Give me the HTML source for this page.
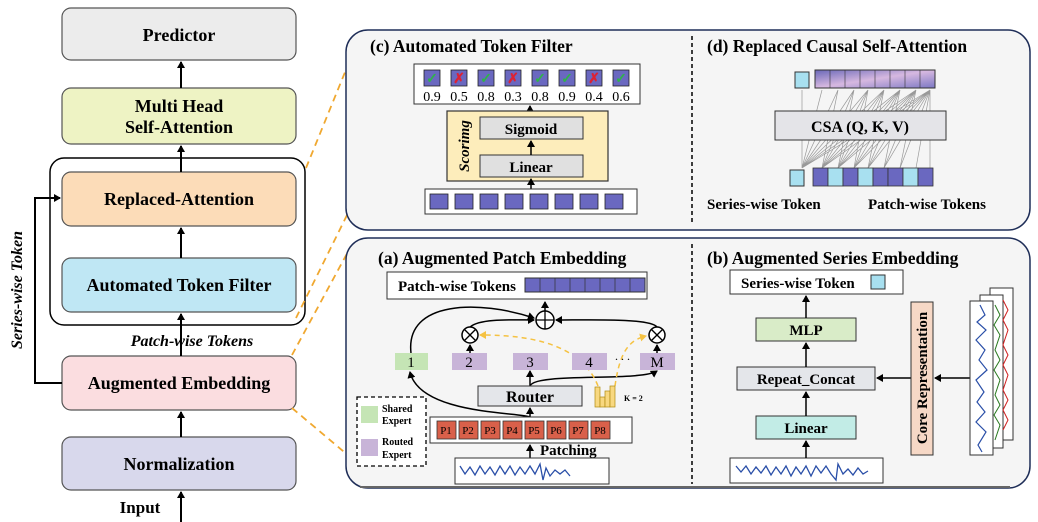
<!DOCTYPE html>
<html><head><meta charset="utf-8"><style>
html,body{margin:0;padding:0;background:#fff;}
svg{display:block;font-family:"Liberation Serif",serif;font-weight:bold;}
</style></head><body>
<svg width="1038" height="522" viewBox="0 0 1038 522" xmlns="http://www.w3.org/2000/svg">
<defs>
<marker id="ar" markerWidth="8" markerHeight="8" refX="6" refY="4" orient="auto" markerUnits="userSpaceOnUse"><path d="M0,0 L7,4 L0,8 Z" fill="#000"/></marker>
<marker id="ao" markerWidth="8" markerHeight="8" refX="6" refY="4" orient="auto" markerUnits="userSpaceOnUse"><path d="M0,0 L7,4 L0,8 Z" fill="#f5c242"/></marker>
<linearGradient id="pg" x1="0" y1="0" x2="1" y2="1"><stop offset="0" stop-color="#6a68b8"/><stop offset="0.5" stop-color="#d6b8e0"/><stop offset="1" stop-color="#7c78c4"/></linearGradient>
</defs>

<!-- LEFT COLUMN -->
<rect x="50" y="158" width="255" height="167" rx="14" fill="#fff" stroke="#000" stroke-width="1.5"/>
<rect x="62" y="8" width="234" height="52" rx="9" fill="#ececec" stroke="#555" stroke-width="1.2"/>
<text x="179" y="41" font-size="18" text-anchor="middle">Predictor</text>
<rect x="62" y="88" width="234" height="56" rx="9" fill="#eef3c4" stroke="#555" stroke-width="1.2"/>
<text x="179" y="112" font-size="18" text-anchor="middle">Multi Head</text>
<text x="179" y="133" font-size="18" text-anchor="middle">Self-Attention</text>
<rect x="62" y="172" width="234" height="54" rx="9" fill="#fcdcb8" stroke="#555" stroke-width="1.2"/>
<text x="179" y="205" font-size="18" text-anchor="middle">Replaced-Attention</text>
<rect x="62" y="258" width="234" height="54" rx="9" fill="#bfe7f4" stroke="#555" stroke-width="1.2"/>
<text x="179" y="291" font-size="18" text-anchor="middle">Automated Token Filter</text>
<text x="192" y="346" font-size="16" font-style="italic" text-anchor="middle">Patch-wise Tokens</text>
<rect x="62" y="356" width="234" height="54" rx="9" fill="#fbdde0" stroke="#555" stroke-width="1.2"/>
<text x="179" y="389" font-size="18" text-anchor="middle">Augmented Embedding</text>
<rect x="62" y="437" width="234" height="53" rx="9" fill="#d8d8ec" stroke="#555" stroke-width="1.2"/>
<text x="179" y="470" font-size="18" text-anchor="middle">Normalization</text>
<text x="140" y="513" font-size="17" text-anchor="middle">Input</text>
<g stroke="#000" stroke-width="2" marker-end="url(#ar)">
<line x1="181" y1="522" x2="181" y2="492"/>
<line x1="181" y1="437" x2="181" y2="412"/>
<line x1="181" y1="356" x2="181" y2="314"/>
<line x1="181" y1="258" x2="181" y2="228"/>
<line x1="181" y1="172" x2="181" y2="146"/>
<line x1="181" y1="88" x2="181" y2="62"/>
</g>
<polyline points="62,383 35,383 35,198 60,198" fill="none" stroke="#000" stroke-width="2" marker-end="url(#ar)"/>
<text transform="translate(22,290) rotate(-90)" font-size="16" font-style="italic" text-anchor="middle">Series-wise Token</text>

<!-- orange connectors -->
<g stroke="#f0a830" stroke-width="1.8" stroke-dasharray="7,5" fill="none">
<line x1="306" y1="168" x2="352" y2="55"/>
<line x1="296" y1="318" x2="352" y2="205"/>
<line x1="292" y1="355" x2="350" y2="248"/>
<line x1="292" y1="408" x2="356" y2="462"/>
</g>

<!-- TOP PANEL -->
<rect x="346" y="30" width="684" height="200" rx="22" fill="#f5f5f5" stroke="#1f2e58" stroke-width="1.5"/>
<line x1="692" y1="36" x2="692" y2="224" stroke="#000" stroke-width="1.5" stroke-dasharray="4,3"/>
<text x="370" y="52" font-size="17.5">(c) Automated Token Filter</text>
<text x="707" y="52" font-size="17.5">(d) Replaced Causal Self-Attention</text>

<!-- (c) -->
<rect x="414" y="64" width="226" height="40" fill="#fff" stroke="#333"/>
<g font-size="14" font-weight="normal" text-anchor="middle">
<text x="432" y="101">0.9</text><text x="459" y="101">0.5</text><text x="486" y="101">0.8</text><text x="513" y="101">0.3</text>
<text x="540" y="101">0.8</text><text x="567" y="101">0.9</text><text x="594" y="101">0.4</text><text x="621" y="101">0.6</text>
</g>
<g fill="#6a68c0" stroke="#222" stroke-width="0.8">
<rect x="424" y="70" width="16" height="16"/><rect x="451" y="70" width="16" height="16"/><rect x="478" y="70" width="16" height="16"/><rect x="505" y="70" width="16" height="16"/>
<rect x="532" y="70" width="16" height="16"/><rect x="559" y="70" width="16" height="16"/><rect x="586" y="70" width="16" height="16"/><rect x="613" y="70" width="16" height="16"/>
</g>
<g font-size="14" text-anchor="middle" font-weight="bold">
<text x="432" y="83" fill="#2fb34a">✓</text><text x="459" y="83" fill="#d23">✗</text><text x="486" y="83" fill="#2fb34a">✓</text><text x="513" y="83" fill="#d23">✗</text>
<text x="540" y="83" fill="#2fb34a">✓</text><text x="567" y="83" fill="#2fb34a">✓</text><text x="594" y="83" fill="#d23">✗</text><text x="621" y="83" fill="#2fb34a">✓</text>
</g>
<line x1="530" y1="111" x2="530" y2="106" stroke="#000" stroke-width="1.5" marker-end="url(#ar)"/>
<rect x="447" y="111" width="161" height="70" fill="#fdedbb" stroke="#333" stroke-width="1.2"/>
<text transform="translate(469,146) rotate(-90)" font-size="15" font-style="italic" text-anchor="middle">Scorimg</text>
<rect x="480" y="117" width="103" height="22" fill="#e0e0e0" stroke="#333"/>
<text x="531" y="134" font-size="15" text-anchor="middle">Sigmoid</text>
<rect x="480" y="155" width="103" height="22" fill="#e0e0e0" stroke="#333"/>
<text x="531" y="172" font-size="15" text-anchor="middle">Linear</text>
<line x1="531" y1="155" x2="531" y2="141" stroke="#000" stroke-width="1.5" marker-end="url(#ar)"/>
<line x1="531" y1="189" x2="531" y2="179" stroke="#000" stroke-width="1.5" marker-end="url(#ar)"/>
<rect x="425" y="189" width="212" height="25" fill="#fff" stroke="#333"/>
<g fill="#6a68c0" stroke="#222" stroke-width="0.8">
<rect x="430" y="194" width="18" height="15"/><rect x="455" y="194" width="18" height="15"/><rect x="480" y="194" width="18" height="15"/><rect x="505" y="194" width="18" height="15"/>
<rect x="530" y="194" width="18" height="15"/><rect x="555" y="194" width="18" height="15"/><rect x="580" y="194" width="18" height="15"/><rect x="605" y="194" width="18" height="15"/>
</g>

<!-- (d) -->
<g stroke="#999" stroke-width="0.7" fill="none">
<path d="M802,168 L802,90 M802,168 L822,90 M802,168 L838,90 M802,168 L854,90 M802,168 L868,90 M802,168 L884,90 M802,168 L900,90 M802,168 L916,90 M802,168 L930,90
M822,168 L838,90 M822,168 L854,90 M822,168 L868,90 M822,168 L884,90 M822,168 L900,90 M822,168 L916,90 M822,168 L930,90
M838,168 L854,90 M838,168 L868,90 M838,168 L884,90 M838,168 L900,90 M838,168 L916,90 M838,168 L930,90
M854,168 L868,90 M854,168 L884,90 M854,168 L900,90 M854,168 L916,90 M854,168 L930,90
M868,168 L884,90 M868,168 L900,90 M868,168 L916,90 M868,168 L930,90
M884,168 L900,90 M884,168 L916,90 M884,168 L930,90 M900,168 L916,90 M900,168 L930,90 M916,168 L930,90 M930,168 L930,90"/>
</g>
<rect x="775" y="111" width="171" height="29" fill="#e4e4e8" stroke="#333"/>
<text x="860" y="132" font-size="16" text-anchor="middle">CSA (Q, K, V)</text>
<rect x="795" y="72" width="14" height="16" fill="#a8e0f0" stroke="#333"/>
<rect x="815" y="70" width="120" height="18" fill="url(#pg)" stroke="#333"/>
<g stroke="#333" stroke-width="0.6"><line x1="830" y1="70" x2="830" y2="88"/><line x1="845" y1="70" x2="845" y2="88"/><line x1="860" y1="70" x2="860" y2="88"/><line x1="875" y1="70" x2="875" y2="88"/><line x1="890" y1="70" x2="890" y2="88"/><line x1="905" y1="70" x2="905" y2="88"/><line x1="920" y1="70" x2="920" y2="88"/></g>
<rect x="790" y="170" width="14" height="16" fill="#a8e0f0" stroke="#333"/>
<g stroke="#333" stroke-width="0.8">
<rect x="813" y="168" width="15" height="18" fill="#6a68c0"/><rect x="828" y="168" width="15" height="18" fill="#a8e0f0"/><rect x="843" y="168" width="15" height="18" fill="#6a68c0"/><rect x="858" y="168" width="15" height="18" fill="#a8e0f0"/>
<rect x="873" y="168" width="15" height="18" fill="#6a68c0"/><rect x="888" y="168" width="15" height="18" fill="#6a68c0"/><rect x="903" y="168" width="15" height="18" fill="#a8e0f0"/><rect x="918" y="168" width="15" height="18" fill="#6a68c0"/>
</g>
<text x="707" y="209" font-size="15">Series-wise Token</text>
<text x="868" y="209" font-size="15">Patch-wise Tokens</text>

<!-- BOTTOM PANEL -->
<rect x="346" y="238" width="684" height="250" rx="22" fill="#f5f5f5" stroke="#1f2e58" stroke-width="1.5"/>
<line x1="360" y1="487" x2="1010" y2="487" stroke="#666" stroke-width="2"/>
<line x1="692" y1="244" x2="692" y2="484" stroke="#000" stroke-width="1.5" stroke-dasharray="4,3"/>
<text x="378" y="264" font-size="17.5">(a) Augmented Patch Embedding</text>
<text x="707" y="264" font-size="17.5">(b) Augmented Series Embedding</text>

<!-- (a) -->
<rect x="387" y="272" width="260" height="27" fill="#fff" stroke="#333"/>
<text x="398" y="291" font-size="15">Patch-wise Tokens</text>
<rect x="525" y="278" width="120" height="14" fill="#6a68c0" stroke="#333"/>
<g stroke="#333" stroke-width="0.7"><line x1="540" y1="278" x2="540" y2="292"/><line x1="555" y1="278" x2="555" y2="292"/><line x1="570" y1="278" x2="570" y2="292"/><line x1="585" y1="278" x2="585" y2="292"/><line x1="600" y1="278" x2="600" y2="292"/><line x1="615" y1="278" x2="615" y2="292"/><line x1="630" y1="278" x2="630" y2="292"/></g>
<line x1="545" y1="311" x2="545" y2="302" stroke="#000" stroke-width="1.5" marker-end="url(#ar)"/>
<g fill="#fff" stroke="#000" stroke-width="1.5">
<circle cx="545" cy="320" r="9"/><circle cx="470" cy="335" r="8"/><circle cx="657" cy="335" r="8"/>
</g>
<g stroke="#000" stroke-width="1.3"><line x1="536" y1="320" x2="554" y2="320"/><line x1="545" y1="311" x2="545" y2="329"/>
<line x1="464" y1="329" x2="476" y2="341"/><line x1="476" y1="329" x2="464" y2="341"/><line x1="651" y1="329" x2="663" y2="341"/><line x1="663" y1="329" x2="651" y2="341"/></g>
<g fill="none" stroke="#000" stroke-width="1.5">
<path d="M411,353 C405,300 480,300 534,318" marker-end="url(#ar)"/>
<path d="M470,327 C480,318 515,320 534,320" marker-end="url(#ar)"/>
<path d="M657,327 C650,318 590,320 556,320" marker-end="url(#ar)"/>
<line x1="470" y1="353" x2="470" y2="345" marker-end="url(#ar)"/>
<line x1="657" y1="353" x2="657" y2="345" marker-end="url(#ar)"/>
<path d="M530,417 C520,412 420,415 410,372" marker-end="url(#ar)"/>
<line x1="530" y1="417" x2="530" y2="408" marker-end="url(#ar)"/>
<line x1="530" y1="386" x2="530" y2="371" marker-end="url(#ar)"/>
<path d="M530,386 C535,372 640,382 657,371" marker-end="url(#ar)"/>
<line x1="530" y1="458" x2="530" y2="445" marker-end="url(#ar)"/>
</g>
<g stroke="#f5c242" stroke-width="1.5" stroke-dasharray="5,4" fill="none">
<path d="M598,386 C580,340 520,335 480,335" marker-end="url(#ao)"/>
<path d="M615,386 C620,350 630,340 646,336" marker-end="url(#ao)"/>
</g>
<rect x="395" y="353" width="33" height="17" fill="#c5e5b5"/><text x="411" y="367" font-size="15" font-weight="normal" text-anchor="middle">1</text>
<rect x="452" y="353" width="35" height="17" fill="#c8b4d8"/><text x="469" y="367" font-size="15" font-weight="normal" text-anchor="middle">2</text>
<rect x="513" y="353" width="35" height="17" fill="#c8b4d8"/><text x="530" y="367" font-size="15" font-weight="normal" text-anchor="middle">3</text>
<rect x="572" y="353" width="35" height="17" fill="#c8b4d8"/><text x="589" y="367" font-size="15" font-weight="normal" text-anchor="middle">4</text>
<text x="615" y="360" font-size="12" font-weight="normal">. . .</text>
<rect x="640" y="353" width="35" height="17" fill="#c8b4d8"/><text x="657" y="367" font-size="15" font-weight="normal" text-anchor="middle">M</text>
<rect x="478" y="386" width="104" height="20" fill="#e4e6ea" stroke="#333"/>
<text x="530" y="402" font-size="16" text-anchor="middle">Router</text>
<g fill="#f8d880" stroke="#b08a10" stroke-width="0.7">
<rect x="595" y="387" width="5" height="20"/><rect x="600" y="397" width="5" height="10"/><rect x="605" y="391" width="5" height="16"/><rect x="610" y="386" width="5" height="21"/>
</g>
<text x="624" y="401" font-size="8">K = 2</text>
<rect x="430" y="417" width="202" height="26" fill="#fff" stroke="#333"/>
<g fill="#d9604a" stroke="#333" stroke-width="0.8">
<rect x="437" y="421" width="19" height="18"/><rect x="459" y="421" width="19" height="18"/><rect x="481" y="421" width="19" height="18"/><rect x="503" y="421" width="19" height="18"/>
<rect x="525" y="421" width="19" height="18"/><rect x="547" y="421" width="19" height="18"/><rect x="569" y="421" width="19" height="18"/><rect x="591" y="421" width="19" height="18"/>
</g>
<g font-size="11" font-weight="normal" text-anchor="middle">
<text x="446" y="434">P1</text><text x="468" y="434">P2</text><text x="490" y="434">P3</text><text x="512" y="434">P4</text>
<text x="534" y="434">P5</text><text x="556" y="434">P6</text><text x="578" y="434">P7</text><text x="600" y="434">P8</text>
</g>
<text x="540" y="455" font-size="15">Patching</text>
<rect x="455" y="458" width="154" height="26" fill="#fff" stroke="#333"/>
<polyline points="460,466 465,474 470,467 475,475 480,466 485,474 490,467 495,475 500,466 505,474 510,466 515,475 520,467 525,474 530,466 535,474 540,464 543,480 546,468 550,476 555,470 560,474 565,470 570,476" fill="none" stroke="#2a4fa8" stroke-width="1.3"/>
<rect x="357" y="397" width="69" height="69" fill="#fff" stroke="#000" stroke-width="1.3" stroke-dasharray="4,3"/>
<rect x="361" y="406" width="17" height="17" fill="#c5e5b5"/>
<text x="382" y="412" font-size="10">Shared</text><text x="382" y="424" font-size="10">Expert</text>
<rect x="361" y="439" width="17" height="17" fill="#c8b4d8"/>
<text x="382" y="445" font-size="10">Routed</text><text x="382" y="458" font-size="10">Expert</text>

<!-- (b) -->
<rect x="730" y="270" width="173" height="24" fill="#fff" stroke="#333"/>
<text x="741" y="288" font-size="15">Series-wise Token</text>
<rect x="871" y="275" width="14" height="14" fill="#a8e0f0" stroke="#333"/>
<rect x="756" y="318" width="100" height="23" fill="#d9ecc8" stroke="#333"/>
<text x="806" y="335" font-size="15" text-anchor="middle">MLP</text>
<rect x="737" y="367" width="138" height="23" fill="#e4e6ea" stroke="#333"/>
<text x="806" y="384" font-size="15" text-anchor="middle">Repeat_Concat</text>
<rect x="756" y="416" width="100" height="23" fill="#c2ece6" stroke="#333"/>
<text x="806" y="433" font-size="15" text-anchor="middle">Linear</text>
<rect x="730" y="458" width="153" height="25" fill="#fff" stroke="#333"/>
<polyline points="736,466 741,472 746,466 751,474 756,467 761,473 766,466 771,475 776,467 781,474 786,466 791,476 796,467 801,474 806,466 811,476 816,466 821,473 826,466 831,474 836,480 838,464 843,474 848,469 853,475 858,468 863,474 868,471" fill="none" stroke="#2a4fa8" stroke-width="1.3"/>
<g stroke="#000" stroke-width="1.5" fill="none">
<line x1="806" y1="458" x2="806" y2="441" marker-end="url(#ar)"/>
<line x1="806" y1="416" x2="806" y2="392" marker-end="url(#ar)"/>
<line x1="806" y1="367" x2="806" y2="343" marker-end="url(#ar)"/>
<line x1="806" y1="318" x2="806" y2="296" marker-end="url(#ar)"/>
<line x1="911" y1="378" x2="877" y2="378" marker-end="url(#ar)"/>
<line x1="970" y1="378" x2="935" y2="378" marker-end="url(#ar)"/>
</g>
<rect x="911" y="302" width="22" height="153" fill="#f6d8c6" stroke="#333"/>
<text transform="translate(927,378) rotate(-90)" font-size="15" text-anchor="middle">Core Representation</text>
<rect x="990" y="288" width="23" height="152" fill="#fff" stroke="#333"/>
<rect x="980" y="295" width="23" height="153" fill="#fff" stroke="#333"/>
<rect x="970" y="301" width="23" height="154" fill="#fff" stroke="#333"/>
<polyline points="1003,300 1008,310 1003,320 1008,330 1003,345 1008,355 1003,365 1008,375 1003,390 1008,400 1003,410 1008,420 1003,430" fill="none" stroke="#d02020" stroke-width="1"/>
<polyline points="995,305 1000,315 994,325 1000,335 995,350 1000,360 994,370 1000,380 995,395 1000,405 994,415 1000,425 995,440" fill="none" stroke="#2a7a20" stroke-width="1"/>
<polyline points="980,305 985,315 977,322 986,330 976,340 985,350 979,360 987,370 976,380 984,392 977,402 985,412 976,422 986,432 978,445 982,452" fill="none" stroke="#2a4fa8" stroke-width="1.2"/>
</svg>
</body></html>
